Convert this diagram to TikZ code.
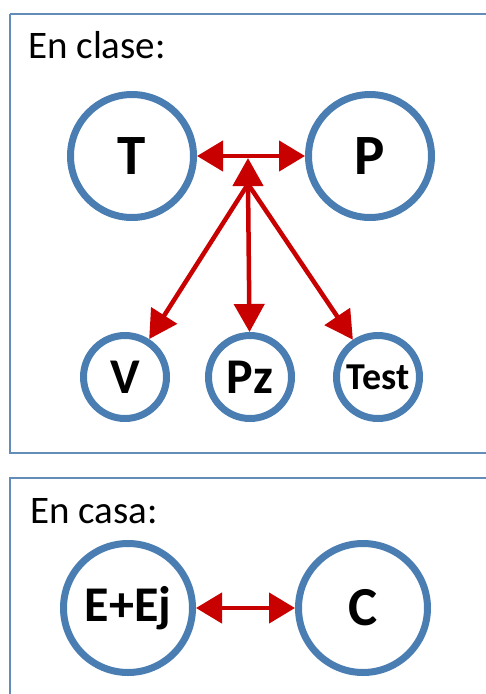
\documentclass[tikz,border=0pt]{standalone}
\usepackage{fontspec}
\setmainfont{Carlito}
\usetikzlibrary{arrows.meta}
\definecolor{ringblue}{RGB}{74,126,178}
\definecolor{frameblue}{RGB}{100,140,185}
\definecolor{arrowred}{RGB}{200,0,0}
\tikzset{
  frame/.style={draw=frameblue, line width=2.5pt},
  heading/.style={anchor=base west, inner sep=0pt, font=\fontsize{39}{41}\selectfont},
  bigring/.style={circle, draw=ringblue, line width=7pt, minimum size=123pt, inner sep=0pt,
    font=\bfseries\fontsize{57}{60}\selectfont},
  smallring/.style={circle, draw=ringblue, line width=7pt, minimum size=83pt, inner sep=0pt,
    font=\bfseries\fontsize{50}{52}\selectfont},
  link/.style={draw=arrowred, line width=4.5pt, -{Triangle[length=28pt,width=30pt]}},
  duallink/.style={draw=arrowred, line width=4.5pt, {Triangle[length=26pt,width=30pt]}-{Triangle[length=26pt,width=30pt]}}
}

\begin{document}
\begin{tikzpicture}[x=1pt, y=-1pt]
\useasboundingbox (0,0) rectangle (485,694);
% Frames
    \draw[frame] (10,14) -- (10,453) -- (495,453);
    \draw[frame] (10,14) -- (495,14);
    \draw[frame] (10,710) -- (10,478) -- (495,478);
% Headings
    \node[heading] (clase) at (28,58) {En clase:};
    \node[heading] (casa) at (30,523) {En casa:};
% In class
    \node[bigring] (T) at (132,156) {T};
    \node[bigring] (P) at (370,156) {P};
    \node[smallring] (V) at (125,377) {V};
    \node[smallring] (Pz) at (250,377) {Pz};
    \node[smallring, font=\bfseries\fontsize{38}{40}\selectfont] (Test) at (378,377) {Test};
    \coordinate (hub) at (248,184);
    \coordinate (top) at (248,158);
    \draw[duallink] (T) -- (P);
    \draw[link] (hub) -- (top);
    \draw[link] (hub) -- (V);
    \draw[link] (hub) -- (Pz);
    \draw[link] (hub) -- (Test);
% At home
    \node[bigring, minimum size=129pt, font=\bfseries\fontsize{50}{52}\selectfont] (EEj) at (128,608) {E+Ej};
    \node[bigring, minimum size=129pt, font=\bfseries\fontsize{55}{58}\selectfont] (C) at (363,608) {C};
    \draw[duallink] (EEj) -- (C);
\end{tikzpicture}
\end{document}
